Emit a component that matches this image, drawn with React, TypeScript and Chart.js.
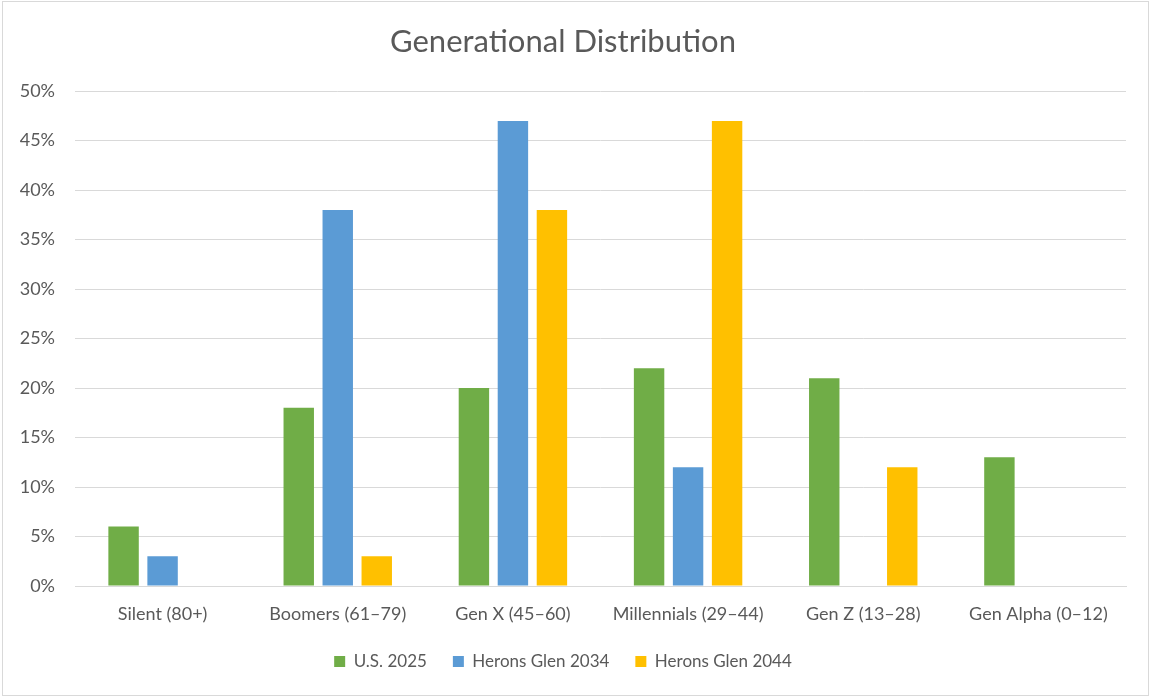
import React, { useEffect, useRef } from "react";
import { Chart, registerables } from "chart.js";

Chart.register(...registerables);

const categories = [
  "Silent (80+)",
  "Boomers (61–79)",
  "Gen X (45–60)",
  "Millennials (29–44)",
  "Gen Z (13–28)",
  "Gen Alpha (0–12)",
];
const us2025 = [6, 18, 20, 22, 21, 13];
const herons2034 = [3, 38, 47, 12, 0, 0];
const herons2044 = [0, 3, 38, 47, 12, 0];
const yTicks = [0, 5, 10, 15, 20, 25, 30, 35, 40, 45, 50];

const FONT = "Lato, 'Liberation Sans', sans-serif";
const TEXT = "#595959";
const GRID = "#d9d9d9";

const borderPlugin = {
  id: "outerBorder",
  beforeDraw(chart: any) {
    const ctx = chart.ctx;
    ctx.save();
    ctx.fillStyle = "#ffffff";
    ctx.fillRect(0, 0, chart.width, chart.height);
    ctx.strokeStyle = GRID;
    ctx.lineWidth = 1;
    ctx.strokeRect(2.5, 1.5, chart.width - 4, chart.height - 4);
    ctx.restore();
  },
};

export default function App() {
  const ref = useRef<HTMLCanvasElement>(null);

  useEffect(() => {
    document.body.style.margin = "0";
    const canvas = ref.current;
    if (!canvas) return;
    const chart = new Chart(canvas, {
      type: "bar",
      data: {
        labels: categories,
        datasets: [
          { label: "U.S. 2025", data: us2025, backgroundColor: "#70AD47" },
          { label: "Herons Glen 2034", data: herons2034, backgroundColor: "#5B9BD5" },
          { label: "Herons Glen 2044", data: herons2044, backgroundColor: "#FFC000" },
        ],
      },
      options: {
        animation: false,
        responsive: false,
        maintainAspectRatio: false,
        layout: { padding: { left: 0, right: 24, top: 0, bottom: 18 } },
        datasets: {
          bar: { categoryPercentage: 0.668, barPercentage: 0.78, borderWidth: 0 },
        },
        plugins: {
          title: {
            display: true,
            text: "Generational Distribution",
            color: TEXT,
            font: { family: FONT, size: 31, weight: "normal" },
            padding: { top: 23, bottom: 31 },
          },
          legend: {
            position: "bottom",
            labels: {
              color: TEXT,
              font: { family: FONT, size: 17 },
              boxWidth: 11,
              boxHeight: 11,
              padding: 26,
            },
          },
          tooltip: { enabled: false },
        },
        scales: {
          x: {
            grid: { display: false, drawTicks: false },
            border: { display: true, color: GRID },
            ticks: { color: TEXT, font: { family: FONT, size: 18 }, padding: 17, maxRotation: 0 },
            afterFit(scale: any) {
              scale.height = 41;
            },
          },
          y: {
            min: 0,
            max: 50,
            afterBuildTicks(scale: any) {
              scale.ticks = yTicks.map((v) => ({ value: v }));
            },
            grid: { color: GRID, drawTicks: false },
            border: { display: false },
            ticks: {
              color: TEXT,
              font: { family: FONT, size: 18 },
              padding: 20,
              callback: (v: any) => v + "%",
            },
            afterFit(scale: any) {
              scale.width = 75;
            },
          },
        },
      },
      plugins: [borderPlugin],
    });
    return () => chart.destroy();
  }, []);

  return <canvas ref={ref} width={1150} height={698} style={{ display: "block" }} />;
}
